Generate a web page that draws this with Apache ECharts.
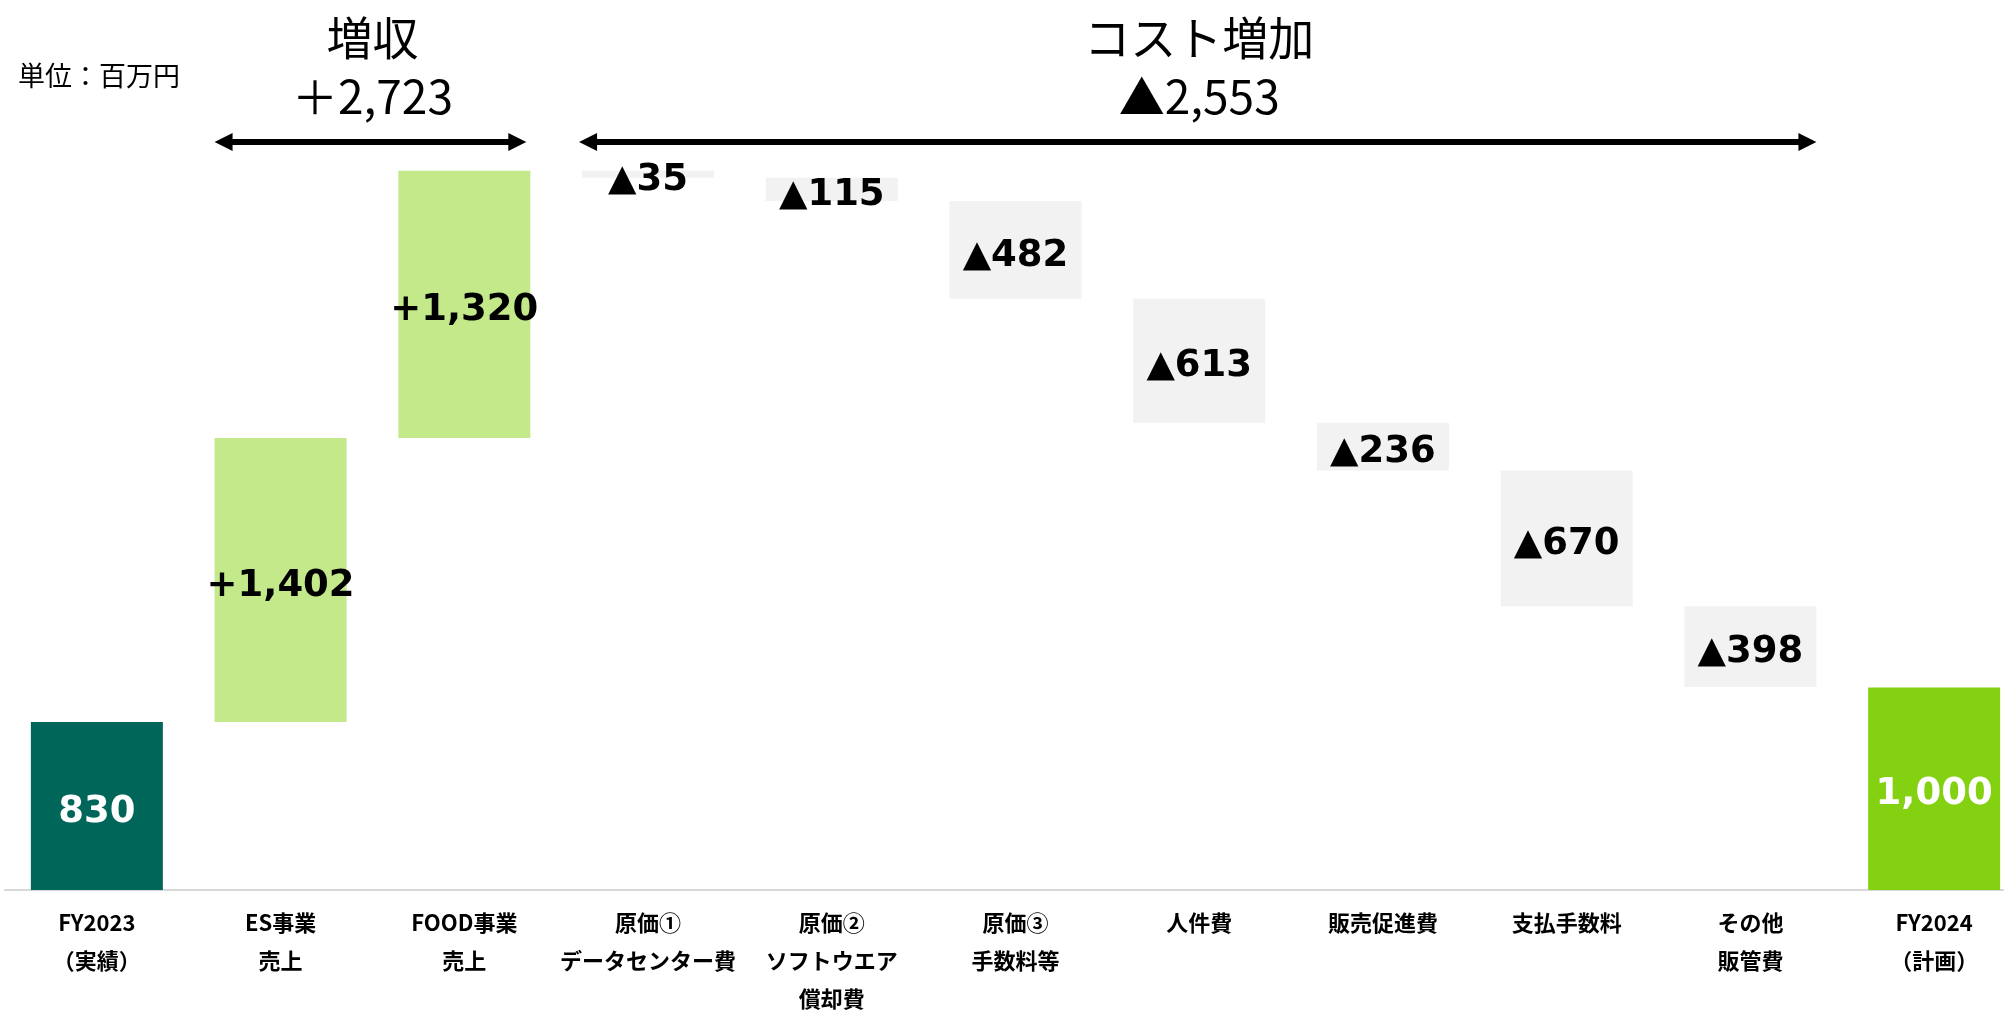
<!DOCTYPE html>
<html>
<head>
<meta charset="utf-8">
<style>
  html, body { margin: 0; padding: 0; background: #fff; overflow: hidden; }
  #chart { width: 2004px; height: 1011px; }
</style>
<script src="https://cdn.jsdelivr.net/npm/echarts@6/dist/echarts.min.js"></script>
</head>
<body>
<div id="chart"></div>
<script>
// 項目名
var categories = ["FY2023\n（実績）", "ES事業\n売上", "FOOD事業\n売上", "原価①\nデータセンター費", "原価②\nソフトウエア\n償却費", "原価③\n手数料等", "人件費", "販売促進費", "支払手数料", "その他\n販管費", "FY2024\n（計画）"];
// 金額（百万円）
var startValue = 830;
var salesUp = [1402, 1320];
var costUp = [35, 115, 482, 613, 236, 670, 398];
var endValue = 1000;
// 上部の合計表示
var salesTotalText = ["増収", "＋2,723"];
var costTotalText = ["コスト増加", "▲2,553"];

function fmt(n) {
  return String(n).replace(/\B(?=(\d{3})+(?!\d))/g, ",");
}

function waterfall() {
  var myChart = echarts.init(document.querySelector("#chart"));

  // 透明な土台と見える棒を作る
  var base = [];
  var bars = [];
  var kinds = [];
  base.push(0);
  bars.push({ value: startValue, itemStyle: { color: "#00665A" }, label: { color: "#fff" } });
  kinds.push("total");
  var run = startValue;
  for (var i = 0; i < salesUp.length; i++) {
    base.push(run);
    bars.push({ value: salesUp[i], itemStyle: { color: "#C3E98B" } });
    kinds.push("up");
    run += salesUp[i];
  }
  for (var j = 0; j < costUp.length; j++) {
    run -= costUp[j];
    base.push(run);
    bars.push({ value: costUp[j], itemStyle: { color: "#F2F2F2" } });
    kinds.push("cost");
  }
  base.push(0);
  bars.push({ value: endValue, itemStyle: { color: "#84D112" }, label: { color: "#fff" } });
  kinds.push("total");

  option = {
    animation: false,
    grid: {
      left: 5,
      width: 2021,
      top: 80,
      bottom: 121,
      outerBoundsMode: "none",
      containLabel: false
    },
    xAxis: {
      type: "category",
      data: categories,
      axisLine: {
        lineStyle: { color: "#D9D9D9", width: 2 }
      },
      axisTick: { show: false },
      axisLabel: {
        interval: 0,
        margin: 14,
        color: "#000",
        fontFamily: "Noto Sans CJK JP",
        fontWeight: "bold",
        fontSize: 22,
        lineHeight: 38
      }
    },
    yAxis: {
      type: "value",
      min: 0,
      max: 4000,
      show: false,
      splitLine: { show: false }
    },
    series: [{
        name: "base",
        type: "bar",
        stack: "wf",
        barWidth: 132,
        itemStyle: { color: "transparent" },
        emphasis: { disabled: true },
        data: base
      },
      {
        name: "value",
        type: "bar",
        stack: "wf",
        barWidth: 132,
        label: {
          show: true,
          position: "inside",
          offset: [0, 6],
          color: "#000",
          fontFamily: "DejaVu Sans",
          fontWeight: "bold",
          fontSize: 37,
          formatter: function (p) {
            var k = kinds[p.dataIndex];
            if (k === "up") return "+" + fmt(p.value);
            if (k === "cost") return "▲" + fmt(p.value);
            return fmt(p.value);
          }
        },
        emphasis: { disabled: true },
        data: bars
      }
    ]
  };

  myChart.setOption(option);

  // 矢印と見出し
  var half = 66;
  function cx(idx) {
    return myChart.convertToPixel({ xAxisIndex: 0 }, idx);
  }
  function arrow(x1, x2, y) {
    return [{
      type: "line",
      shape: { x1: x1 + 12, y1: y, x2: x2 - 12, y2: y },
      style: { stroke: "#000", lineWidth: 6 }
    }, {
      type: "polygon",
      shape: { points: [[x1, y], [x1 + 18, y - 9], [x1 + 18, y + 9]] },
      style: { fill: "#000" }
    }, {
      type: "polygon",
      shape: { points: [[x2, y], [x2 - 18, y - 9], [x2 - 18, y + 9]] },
      style: { fill: "#000" }
    }];
  }
  function title(x, y, text) {
    return {
      type: "text",
      x: x,
      y: y,
      style: {
        text: text,
        fill: "#000",
        font: "46px 'Noto Sans CJK JP'",
        align: "center",
        verticalAlign: "middle"
      }
    };
  }

  var s1 = cx(1) - half, s2 = cx(2) + half;
  var c1 = cx(3) - half, c2 = cx(9) + half;
  var els = [];
  els = els.concat(arrow(s1, s2 - 4, 142));
  els = els.concat(arrow(c1 - 3, c2, 142));
  els.push(title((cx(1) + cx(2)) / 2, 38, salesTotalText[0]));
  els.push(title((cx(1) + cx(2)) / 2, 97, salesTotalText[1]));
  els.push(title((cx(3) + cx(9)) / 2, 38, costTotalText[0]));
  els.push(title((cx(3) + cx(9)) / 2, 97, costTotalText[1]));
  els.push({
    type: "text",
    x: 18,
    y: 76,
    style: {
      text: "単位：百万円",
      fill: "#000",
      font: "27px 'Noto Sans CJK JP'",
      verticalAlign: "middle"
    }
  });
  myChart.setOption({ graphic: { elements: els } });

  window.addEventListener("resize", function () {
    myChart.resize();
  });
}
waterfall();
</script>
</body>
</html>
